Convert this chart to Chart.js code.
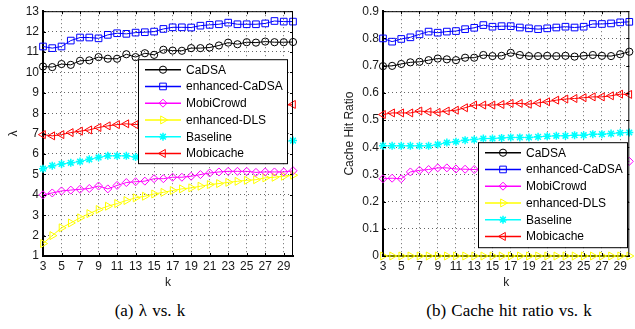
<!DOCTYPE html>
<html>
<head>
<meta charset="utf-8">
<script src="https://cdn.jsdelivr.net/npm/chart.js@4.4.0/dist/chart.umd.min.js"></script>
<style>
  body { margin: 0; background: #fff; width: 635px; height: 329px; position: relative; overflow: hidden; }
  canvas { position: absolute; top: 0; }
  #lambdaChart { left: 0; }
  #hitChart { left: 330px; }
  .cap { position: absolute; top: 301px; line-height: 20px; font-family: "Liberation Serif", "Times New Roman", serif; font-size: 17px; color: #000; transform: translateX(-50%); white-space: nowrap; word-spacing: 1px; }
</style>
</head>
<body>
<canvas id="lambdaChart" width="300" height="300"></canvas>
<canvas id="hitChart" width="305" height="300"></canvas>
<div class="cap" style="left:150px">(a) λ vs. k</div>
<div class="cap" style="left:509px">(b) Cache hit ratio vs. k</div>
<script>
// x values and tick labels
const kValues = [3, 4, 5, 6, 7, 8, 9, 10, 11, 12, 13, 14, 15, 16, 17, 18, 19, 20, 21, 22, 23, 24, 25, 26, 27, 28, 29, 30]
const kTicks = [3, 5, 7, 9, 11, 13, 15, 17, 19, 21, 23, 25, 27, 29]
const lambdaTicks = [1, 2, 3, 4, 5, 6, 7, 8, 9, 10, 11, 12, 13]
const hitTicks = [0, 0.1, 0.2, 0.3, 0.4, 0.5, 0.6, 0.7, 0.8, 0.9]

const seriesNames = ['CaDSA', 'enhanced-CaDSA', 'MobiCrowd', 'enhanced-DLS', 'Baseline', 'Mobicache']

// (a) lambda vs k  -- null where the legend box hides the points
const lambdaCaDSA = [10.29, 10.26, 10.41, 10.37, 10.57, 10.59, 10.75, 10.67, 10.67, 10.89, 10.75, 10.94, 10.86, 11.11, 11.07, 11.06, 11.19, 11.19, 11.22, 11.32, 11.46, 11.38, 11.48, 11.46, 11.51, 11.48, 11.48, 11.49]
const lambdaEnhCaDSA = [11.27, 11.19, 11.27, 11.56, 11.71, 11.71, 11.67, 11.84, 11.92, 11.89, 11.95, 11.97, 12.0, 12.13, 12.21, 12.21, 12.2, 12.29, 12.33, 12.36, 12.44, 12.36, 12.36, 12.36, 12.4, 12.52, 12.49, 12.49]
const lambdaMobiCrowd = [4.0, 4.09, 4.19, 4.23, 4.27, 4.31, 4.43, 4.29, 4.46, 4.6, 4.64, 4.67, 4.79, 4.79, 4.86, 4.86, 4.91, 4.99, 5.07, 5.12, 5.15, 5.15, 5.15, 5.1, 5.12, 5.12, 5.12, 5.18]
const lambdaEnhDLS = [1.61, 2.0, 2.38, 2.62, 2.87, 3.08, 3.28, 3.44, 3.57, 3.72, 3.85, 3.93, 4.04, 4.12, 4.21, 4.29, 4.34, 4.42, 4.5, 4.55, 4.61, 4.66, 4.71, 4.74, 4.83, 4.86, 4.91, 4.96]
const lambdaBaseline = [5.28, 5.43, 5.51, 5.57, 5.63, 5.74, 5.83, 5.91, 5.91, 5.91, 5.85, null, null, null, null, null, null, null, null, null, null, null, null, null, null, null, null, 6.66]
const lambdaMobicache = [6.95, 6.89, 6.95, 7.05, 7.12, 7.18, 7.3, 7.38, 7.44, 7.48, 7.44, null, null, null, null, null, null, null, null, null, null, null, null, null, null, null, null, 8.43]

// (b) cache hit ratio vs k
const hitCaDSA = [0.698, 0.699, 0.706, 0.712, 0.714, 0.72, 0.726, 0.723, 0.72, 0.729, 0.729, 0.739, 0.735, 0.736, 0.747, 0.739, 0.735, 0.735, 0.736, 0.735, 0.736, 0.733, 0.736, 0.739, 0.736, 0.735, 0.742, 0.751]
const hitEnhCaDSA = [0.8, 0.788, 0.798, 0.804, 0.815, 0.825, 0.821, 0.825, 0.827, 0.834, 0.839, 0.849, 0.843, 0.845, 0.845, 0.84, 0.837, 0.834, 0.837, 0.84, 0.843, 0.84, 0.843, 0.853, 0.853, 0.855, 0.859, 0.861]
const hitMobiCrowd = [0.284, 0.286, 0.284, 0.309, 0.315, 0.318, 0.324, 0.324, 0.32, 0.319, 0.318, null, null, null, null, null, null, null, null, null, null, null, null, null, null, null, null, 0.348]
const hitEnhDLS = [0, 0, 0, 0, 0, 0, 0, 0, 0, 0, 0, 0, 0, 0, 0, 0, 0, 0, 0, 0, 0, 0, 0, 0, 0, 0, 0, 0]
const hitBaseline = [0.405, 0.405, 0.405, 0.405, 0.405, 0.405, 0.41, 0.417, 0.42, 0.426, 0.428, 0.432, 0.432, 0.434, 0.436, 0.436, 0.436, 0.438, 0.44, 0.442, 0.442, 0.444, 0.444, 0.448, 0.448, 0.45, 0.453, 0.454]
const hitMobicache = [0.52, 0.526, 0.526, 0.526, 0.533, 0.53, 0.528, 0.533, 0.536, 0.545, 0.555, 0.555, 0.555, 0.557, 0.561, 0.561, 0.558, 0.563, 0.567, 0.573, 0.577, 0.579, 0.582, 0.585, 0.585, 0.589, 0.595, 0.594]

// matlab-ish line styles
const seriesStyle = [
  { color: '#000000', pointStyle: 'circle', rotation: 0, radius: 3.6, width: 1 },
  { color: '#0000ff', pointStyle: 'rect', rotation: 0, radius: 4.7, width: 1 },
  { color: '#ff00ff', pointStyle: 'rectRot', rotation: 0, radius: 4, width: 1 },
  { color: '#ffff00', pointStyle: 'triangle', rotation: 90, radius: 4.6, width: 1 },
  { color: '#00ffff', pointStyle: 'star', rotation: 0, radius: 4, width: 1.5 },
  { color: '#ff0000', pointStyle: 'triangle', rotation: -90, radius: 4.6, width: 1 }
]

Chart.defaults.font.family = '"Liberation Sans", Arial, sans-serif'
Chart.defaults.font.size = 12
Chart.defaults.color = '#1a1a1a'

function makeDatasets(seriesList) {
  return seriesList.map((values, i) => {
    const s = seriesStyle[i]
    return {
      label: seriesNames[i],
      data: kValues.map((k, j) => ({ x: k, y: values[j] })),
      borderColor: s.color,
      borderWidth: 1,
      pointStyle: s.pointStyle,
      pointRotation: s.rotation,
      pointRadius: s.radius,
      pointBorderWidth: s.width,
      pointBorderColor: s.color,
      pointBackgroundColor: 'rgba(0,0,0,0)',
      spanGaps: true,
      clip: false,
      tension: 0
    }
  })
}

// box around the plot, inward tick marks, and the legend drawn inside the axes
const matlabAxes = {
  id: 'matlabAxes',
  afterDraw(chart, args, opts) {
    const { ctx, chartArea: a, scales } = chart
    ctx.save()
    ctx.strokeStyle = '#000'
    ctx.lineWidth = 1
    ctx.beginPath()
    ctx.moveTo(a.left, a.top + 0.5)
    ctx.lineTo(a.right, a.top + 0.5)
    ctx.moveTo(a.right - 0.5, a.top)
    ctx.lineTo(a.right - 0.5, a.bottom)
    scales.x.ticks.forEach(t => {
      const x = Math.round(scales.x.getPixelForValue(t.value)) + 0.5
      ctx.moveTo(x, a.bottom); ctx.lineTo(x, a.bottom - 3)
      ctx.moveTo(x, a.top); ctx.lineTo(x, a.top + 3)
    })
    scales.y.ticks.forEach(t => {
      const y = Math.round(scales.y.getPixelForValue(t.value)) + 0.5
      ctx.moveTo(a.left, y); ctx.lineTo(a.left + 3, y)
      ctx.moveTo(a.right, y); ctx.lineTo(a.right - 3, y)
    })
    ctx.stroke()

    // legend
    const lx = a.left + opts.left
    const ly = a.top + opts.top
    ctx.fillStyle = '#fff'
    ctx.fillRect(lx, ly, opts.width, opts.height)
    ctx.strokeStyle = '#000'
    ctx.strokeRect(lx + 0.5, ly + 0.5, opts.width, opts.height)
    ctx.font = '12px "Liberation Sans", Arial, sans-serif'
    ctx.textBaseline = 'middle'
    chart.data.datasets.forEach((ds, i) => {
      const s = seriesStyle[i]
      const y = ly + 10.5 + i * 16.75
      ctx.strokeStyle = s.color
      ctx.lineWidth = 1.5
      ctx.beginPath()
      ctx.moveTo(lx + 7, y)
      ctx.lineTo(lx + 43, y)
      ctx.stroke()
      ctx.fillStyle = 'rgba(0,0,0,0)'
      ctx.lineWidth = s.width
      Chart.helpers.drawPoint(ctx, { pointStyle: s.pointStyle, rotation: s.rotation, radius: s.radius, borderWidth: s.width }, lx + 25, y)
      ctx.fillStyle = '#000'
      ctx.fillText(ds.label, lx + 48, y + 0.5)
    })
    ctx.restore()
  }
}

function makeChart(canvasId, seriesList, yMin, yMax, yTicks, yTitle, cfg) {
  const el = document.getElementById(canvasId)
  return new Chart(el, {
    type: 'line',
    data: { datasets: makeDatasets(seriesList) },
    plugins: [matlabAxes],
    options: {
      responsive: false,
      animation: false,
      devicePixelRatio: 1,
      layout: { padding: { left: 0, top: 11, right: cfg.padRight, bottom: 0 } },
      plugins: {
        legend: { display: false },
        tooltip: { enabled: false },
        matlabAxes: cfg.legend
      },
      scales: {
        x: {
          type: 'linear',
          min: 3,
          max: 30,
          afterBuildTicks: axis => { axis.ticks = kTicks.map(v => ({ value: v })) },
          afterFit: axis => { axis.height = 44 },
          ticks: { padding: 3.5, maxRotation: 0, callback: v => String(v) },
          grid: { color: 'rgba(0,0,0,0.6)', lineWidth: 1, drawTicks: false },
          border: { display: true, color: '#000', width: 2, dash: [1, 3] },
          title: { display: true, text: 'k', font: { size: 12 }, color: '#1a1a1a', padding: { top: 0, bottom: 10 } }
        },
        y: {
          type: 'linear',
          min: yMin,
          max: yMax,
          afterBuildTicks: axis => { axis.ticks = yTicks.map(v => ({ value: v })) },
          afterFit: axis => { axis.width = cfg.yWidth },
          ticks: { padding: 4, callback: v => String(v) },
          grid: { color: 'rgba(0,0,0,0.6)', lineWidth: 1, drawTicks: false },
          border: { display: true, color: '#000', width: 2, dash: [1, 3] },
          title: { display: true, text: yTitle, font: { size: 12 }, color: '#1a1a1a', padding: { top: cfg.titlePad, bottom: 0 } }
        }
      }
    }
  })
}

makeChart('lambdaChart',
  [lambdaCaDSA, lambdaEnhCaDSA, lambdaMobiCrowd, lambdaEnhDLS, lambdaBaseline, lambdaMobicache],
  1, 13, lambdaTicks, 'λ',
  { padRight: 7, yWidth: 43, titlePad: 6, legend: { left: 95, top: 48, width: 149, height: 104 } })

makeChart('hitChart',
  [hitCaDSA, hitEnhCaDSA, hitMobiCrowd, hitEnhDLS, hitBaseline, hitMobicache],
  0, 0.9, hitTicks, 'Cache Hit Ratio',
  { padRight: 2, yWidth: 53, titlePad: 12.8, legend: { left: 95, top: 131, width: 149, height: 105 } })
</script>
</body>
</html>
